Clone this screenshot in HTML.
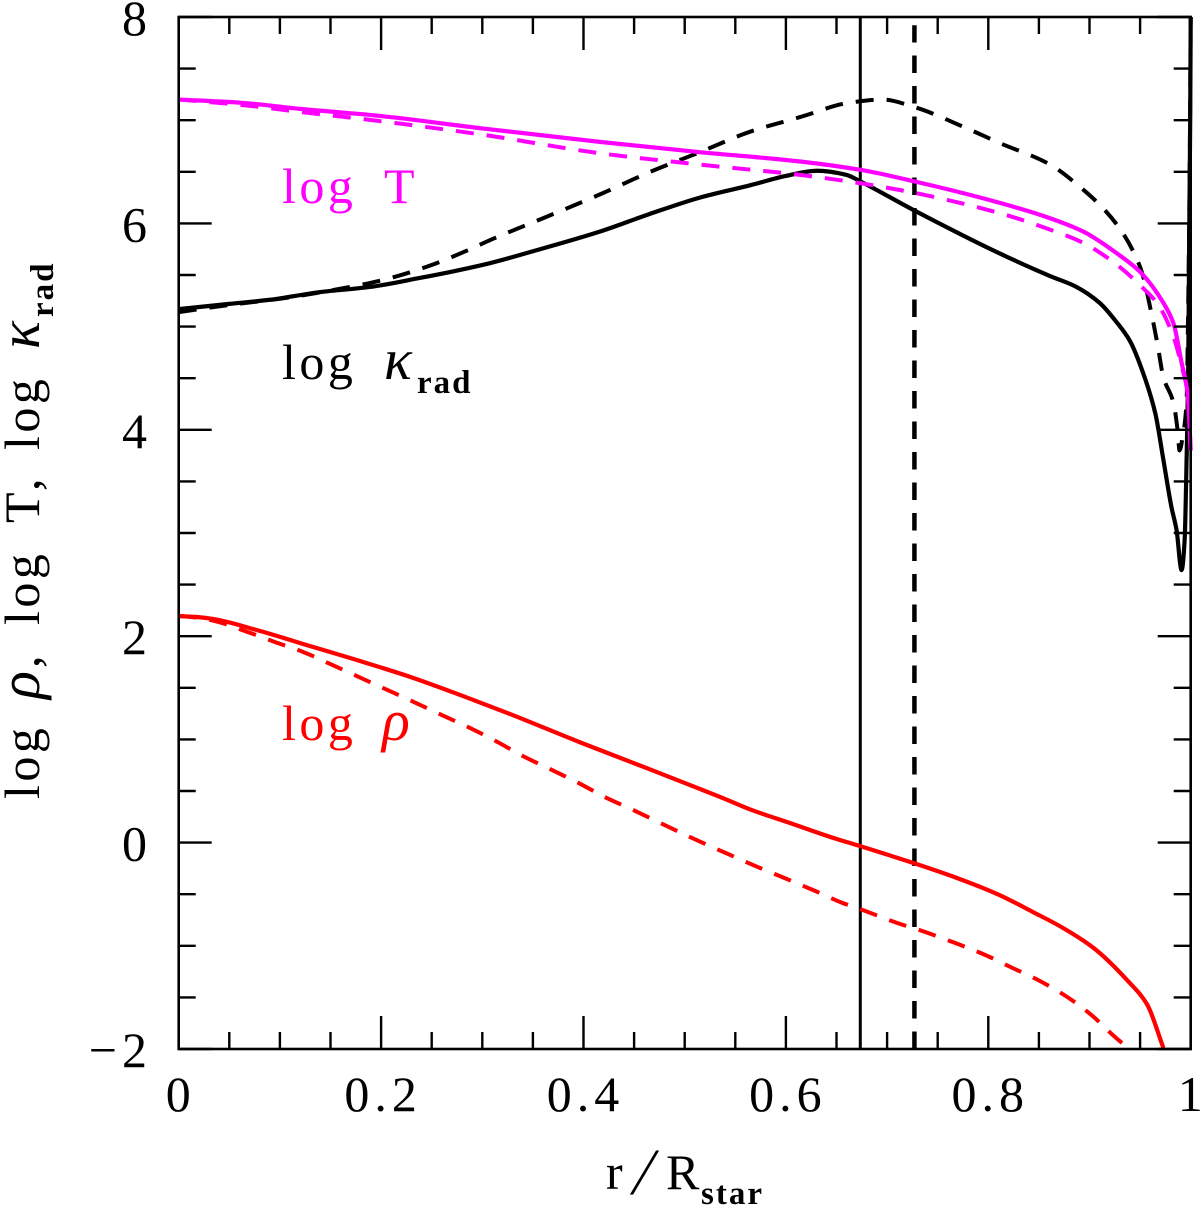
<!DOCTYPE html>
<html lang="en">
<head>
<meta charset="utf-8">
<title>Stellar structure profiles</title>
<style>
html,body{margin:0;padding:0;background:#fff;width:1200px;height:1208px;overflow:hidden}
svg{display:block}
text{font-family:"Liberation Serif","DejaVu Serif",serif;font-size:50px;fill:#000}
.tick{letter-spacing:5px}
.lg{letter-spacing:3.5px}
.sub{font-size:33px;font-weight:bold;letter-spacing:2px}
.it{font-style:italic;font-size:58px}
</style>
</head>
<body>
<svg id="chart" xmlns="http://www.w3.org/2000/svg" width="1200" height="1208" viewBox="0 0 1200 1208">
  <rect width="1200" height="1208" fill="#fff"/>
  <defs><clipPath id="plot-clip"><rect x="176" y="15" width="1017" height="1035"/></clipPath></defs>
  <g id="marks" clip-path="url(#plot-clip)"></g>
  <g id="axes"></g>

  <g transform="rotate(-90)">
    <text class="lg" x="-799" y="39">log</text>
    <text class="it" x="-699" y="39">ρ</text>
    <text x="-668" y="39">,</text>
    <text class="lg" x="-625" y="39">log</text>
    <text x="-523" y="39">T</text>
    <text x="-491" y="39">,</text>
    <text class="lg" x="-450" y="39">log</text>
    <text class="it" x="-349" y="39">κ</text>
    <text class="sub" x="-317" y="53">rad</text>
  </g>
  <g>
    <text x="606" y="1189">r</text>
    <text transform="translate(630,1194) skewX(-14)" style="font-size:66px">/</text>
    <text x="666" y="1189">R</text>
    <text class="sub" x="701" y="1204">star</text>
  </g>
  <g>
    <text class="lg" x="282" y="203" style="fill:#ff00ff">log</text>
    <text x="384" y="203" style="fill:#ff00ff">T</text>
  </g>
  <g>
    <text class="lg" x="282" y="379">log</text>
    <text class="it" x="384" y="379">κ</text>
    <text class="sub" x="417" y="393">rad</text>
  </g>
  <g>
    <text class="lg" x="282" y="740" style="fill:#ff0000">log</text>
    <text class="it" x="382" y="740" style="fill:#ff0000">ρ</text>
  </g>
</svg>
<script>
const xMajorTicks = [0, 0.2, 0.4, 0.6, 0.8, 1];
const xTickLabels = ["0", "0.2", "0.4", "0.6", "0.8", "1"];
const xMinorTicks = [0.05, 0.1, 0.15, 0.25, 0.3, 0.35, 0.45, 0.5, 0.55, 0.65, 0.7, 0.75, 0.85, 0.9, 0.95];
const yMajorTicks = [-2, 0, 2, 4, 6, 8];
const yTickLabels = ["\u22122", "0", "2", "4", "6", "8"];
const yMinorTicks = [-1.5, -1, -0.5, 0.5, 1, 1.5, 2.5, 3, 3.5, 4.5, 5, 5.5, 6.5, 7, 7.5];

const rKappaSolid = [0, 0.05, 0.09, 0.14, 0.189, 0.238, 0.271, 0.308, 0.35, 0.416, 0.465, 0.515, 0.565, 0.6, 0.631, 0.66, 0.673, 0.726, 0.811, 0.861, 0.886, 0.91, 0.927, 0.94, 0.953, 0.965, 0.973, 0.981, 0.986, 0.991, 0.994, 0.996, 0.9975, 0.9985, 0.9995, 1];
const logKappaSolid = [5.17, 5.22, 5.26, 5.335, 5.384, 5.471, 5.535, 5.616, 5.73, 5.92, 6.09, 6.25, 6.37, 6.46, 6.51, 6.47, 6.41, 6.13, 5.71, 5.49, 5.39, 5.23, 5.04, 4.86, 4.55, 4.16, 3.71, 3.25, 3.03, 2.64, 2.93, 3.74, 4.55, 5.84, 7, 8];
const rKappaDashed = [0, 0.05, 0.1, 0.169, 0.202, 0.245, 0.288, 0.308, 0.36, 0.416, 0.466, 0.515, 0.565, 0.614, 0.663, 0.696, 0.726, 0.779, 0.811, 0.861, 0.891, 0.914, 0.932, 0.947, 0.952, 0.962, 0.967, 0.973, 0.983, 0.987, 0.989, 0.992, 0.996, 0.9975, 0.999, 1];
const logKappaDashed = [5.14, 5.21, 5.27, 5.384, 5.452, 5.58, 5.75, 5.84, 6.05, 6.28, 6.5, 6.69, 6.89, 7.03, 7.17, 7.2, 7.13, 6.92, 6.78, 6.57, 6.35, 6.14, 5.92, 5.65, 5.52, 5.09, 4.84, 4.51, 4.26, 4, 3.8, 3.93, 4.29, 5.19, 6.5, 8];
const rTempSolid = [0, 0.06, 0.12, 0.2, 0.3, 0.416, 0.515, 0.614, 0.673, 0.73, 0.811, 0.861, 0.894, 0.927, 0.95, 0.973, 0.983, 0.991, 0.997, 1];
const logTempSolid = [7.2, 7.17, 7.11, 7.04, 6.92, 6.79, 6.69, 6.6, 6.52, 6.4, 6.2, 6.05, 5.92, 5.71, 5.53, 5.23, 5.03, 4.65, 4.35, 3.8];
const rTempDashed = [0, 0.06, 0.12, 0.2, 0.3, 0.416, 0.515, 0.614, 0.673, 0.73, 0.811, 0.861, 0.894, 0.927, 0.95, 0.968, 0.983, 0.992, 0.997, 1];
const logTempDashed = [7.2, 7.15, 7.08, 6.99, 6.86, 6.68, 6.57, 6.47, 6.39, 6.29, 6.1, 5.94, 5.81, 5.6, 5.4, 5.21, 4.9, 4.58, 4.35, 3.8];
const rRhoSolid = [0, 0.018, 0.034, 0.077, 0.133, 0.176, 0.229, 0.281, 0.33, 0.397, 0.463, 0.515, 0.538, 0.565, 0.604, 0.647, 0.673, 0.726, 0.769, 0.811, 0.844, 0.874, 0.904, 0.937, 0.957, 0.973];
const logRhoSolid = [2.196, 2.186, 2.167, 2.06, 1.895, 1.769, 1.605, 1.42, 1.236, 0.97, 0.72, 0.52, 0.43, 0.32, 0.19, 0.045, -0.033, -0.198, -0.343, -0.508, -0.672, -0.828, -1.021, -1.331, -1.57, -1.99];
const rRhoDashed = [0, 0.018, 0.039, 0.068, 0.095, 0.123, 0.151, 0.179, 0.206, 0.234, 0.26, 0.288, 0.315, 0.34, 0.369, 0.395, 0.421, 0.449, 0.476, 0.505, 0.545, 0.572, 0.601, 0.629, 0.656, 0.673, 0.713, 0.726, 0.77, 0.797, 0.824, 0.851, 0.878, 0.902, 0.923, 0.938];
const logRhoDashed = [2.196, 2.18, 2.138, 2.041, 1.944, 1.847, 1.725, 1.6, 1.48, 1.355, 1.236, 1.11, 0.975, 0.839, 0.703, 0.578, 0.442, 0.316, 0.19, 0.055, -0.12, -0.236, -0.353, -0.469, -0.585, -0.643, -0.789, -0.828, -0.983, -1.089, -1.215, -1.341, -1.496, -1.671, -1.864, -1.99];
const boundarySolidR = [0.6735];
const boundaryDashedR = [0.727];

const NS = 'http://www.w3.org/2000/svg';
const xScale = v => 178.7 + v * 1012;
const yScale = v => 1049 - (v + 2) * 103.2;
const marks = document.getElementById('marks');
const axes = document.getElementById('axes');

function makeLine(parent, x1, y1, x2, y2, width) {
  const l = document.createElementNS(NS, 'line');
  l.setAttribute('x1', x1);
  l.setAttribute('y1', y1);
  l.setAttribute('x2', x2);
  l.setAttribute('y2', y2);
  l.setAttribute('stroke', '#000');
  l.setAttribute('stroke-width', width);
  parent.appendChild(l);
  return l;
}
/* Monotone cubic (Fritsch-Carlson) path through the data points */
function smoothPath(rs, vs) {
  const xs = rs.map(xScale), ys = vs.map(yScale), n = xs.length;
  const d = [], m = [];
  for (let i = 0; i < n - 1; i++) d.push((ys[i + 1] - ys[i]) / (xs[i + 1] - xs[i]));
  m[0] = d[0];
  m[n - 1] = d[n - 2];
  for (let i = 1; i < n - 1; i++) {
    if (d[i - 1] * d[i] <= 0) { m[i] = 0; continue; }
    const w1 = 2 * (xs[i + 1] - xs[i]) + (xs[i] - xs[i - 1]);
    const w2 = (xs[i + 1] - xs[i]) + 2 * (xs[i] - xs[i - 1]);
    m[i] = (w1 + w2) / (w1 / d[i - 1] + w2 / d[i]);
  }
  let s = 'M' + xs[0].toFixed(2) + ' ' + ys[0].toFixed(2);
  for (let i = 0; i < n - 1; i++) {
    const h = (xs[i + 1] - xs[i]) / 3;
    s += ' C' + (xs[i] + h).toFixed(2) + ' ' + (ys[i] + m[i] * h).toFixed(2) + ' ' +
      (xs[i + 1] - h).toFixed(2) + ' ' + (ys[i + 1] - m[i + 1] * h).toFixed(2) + ' ' +
      xs[i + 1].toFixed(2) + ' ' + ys[i + 1].toFixed(2);
  }
  return s;
}
function makeCurve(rs, vs, color, dashed) {
  const p = document.createElementNS(NS, 'path');
  p.setAttribute('d', smoothPath(rs, vs));
  p.setAttribute('fill', 'none');
  p.setAttribute('stroke', color);
  p.setAttribute('stroke-width', dashed ? 4 : 4.2);
  p.setAttribute('stroke-linejoin', 'round');
  if (dashed) p.setAttribute('stroke-dasharray', '18 13');
  marks.appendChild(p);
  return p;
}

const frame = document.createElementNS(NS, 'rect');
frame.setAttribute('x', xScale(0));
frame.setAttribute('y', yScale(8));
frame.setAttribute('width', xScale(1) - xScale(0));
frame.setAttribute('height', yScale(-2) - yScale(8));
frame.setAttribute('fill', 'none');
frame.setAttribute('stroke', '#000');
frame.setAttribute('stroke-width', 2.6);


axes.appendChild(frame);

function drawXTick(v, len) {
  const a = makeLine(axes, xScale(v), yScale(-2), xScale(v), yScale(-2) - len, 2.4);
  
  
  const b = makeLine(axes, xScale(v), yScale(8), xScale(v), yScale(8) + len, 2.4);
  
  
}
function drawYTick(v, len) {
  const a = makeLine(axes, xScale(0), yScale(v), xScale(0) + len, yScale(v), 2.4);
  
  
  const b = makeLine(axes, xScale(1), yScale(v), xScale(1) - len, yScale(v), 2.4);
  
  
}
xMajorTicks.forEach(v => drawXTick(v, 33));
xMinorTicks.forEach(v => drawXTick(v, 17));
yMajorTicks.forEach(v => drawYTick(v, 33));
yMinorTicks.forEach(v => drawYTick(v, 17));

xMajorTicks.forEach((v, i) => {
  const t = document.createElementNS(NS, 'text');
  t.textContent = xTickLabels[i];
  t.setAttribute('x', xScale(v) + 2);
  t.setAttribute('y', 1111);
  t.setAttribute('text-anchor', 'middle');
  t.setAttribute('class', 'tick');
  
  
  axes.appendChild(t);
});
yMajorTicks.forEach((v, i) => {
  const t = document.createElementNS(NS, 'text');
  t.textContent = yTickLabels[i];
  t.setAttribute('x', 152);
  t.setAttribute('y', yScale(v) + 18);
  t.setAttribute('text-anchor', 'end');
  t.setAttribute('class', 'tick');
  
  
  axes.appendChild(t);
});

boundarySolidR.forEach(v => {
  const l = makeLine(marks, xScale(v), yScale(8), xScale(v), yScale(-2), 3);
  
  
});
boundaryDashedR.forEach(v => {
  const l = makeLine(marks, xScale(v), yScale(-2), xScale(v), yScale(7.92), 4.5);
  l.setAttribute('stroke-dasharray', '17.5 13');
  
  
});

const c1 = makeCurve(rKappaDashed, logKappaDashed, '#000', true);


const c2 = makeCurve(rKappaSolid, logKappaSolid, '#000', false);


const c3 = makeCurve(rTempDashed, logTempDashed, '#ff00ff', true);


const c4 = makeCurve(rTempSolid, logTempSolid, '#ff00ff', false);


const c5 = makeCurve(rRhoDashed, logRhoDashed, '#ff0000', true);


const c6 = makeCurve(rRhoSolid, logRhoSolid, '#ff0000', false);


</script>
</body>
</html>
